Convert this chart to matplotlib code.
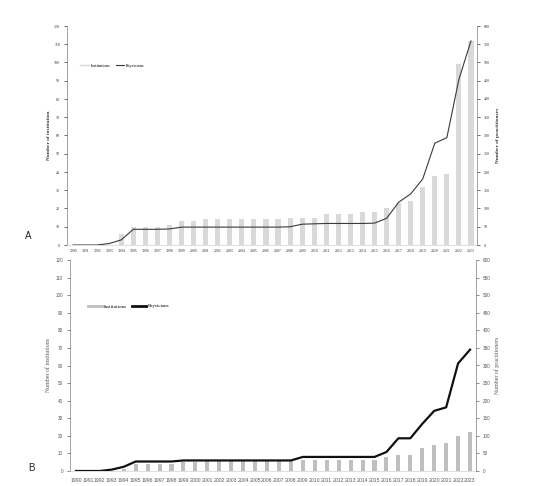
import matplotlib
matplotlib.use("Agg")
import matplotlib.pyplot as plt
import numpy as np

years = ["1990", "1991", "1992", "1993", "1994", "1995", "1996", "1997", "1998", "1999",
         "2000", "2001", "2002", "2003", "2004", "2005", "2006", "2007", "2008", "2009",
         "2010", "2011", "2012", "2013", "2014", "2015", "2016", "2017", "2018", "2019",
         "2020", "2021", "2022", "2023"]

# Panel A
inst_A = [0, 0, 0, 0, 6, 10, 10, 10, 11, 13, 13, 14, 14, 14, 14, 14, 14, 14, 15, 15,
          15, 17, 17, 17, 18, 18, 20, 23, 24, 32, 38, 39, 99, 112]
phys_A = [0, 0, 0, 4, 14, 43, 43, 43, 44, 49, 49, 49, 49, 49, 49, 49, 49, 49, 50, 57,
          58, 59, 59, 59, 59, 60, 73, 117, 140, 181, 279, 294, 454, 559]

# Panel B
inst_B = [0, 0, 0, 0, 1, 4, 4, 4, 4, 5, 5, 6, 6, 6, 6, 6, 6, 6, 6, 6,
          6, 6, 6, 6, 6, 6, 8, 9, 9, 13, 15, 16, 20, 22]
phys_B = [0, 0, 0, 4, 12, 27, 27, 27, 27, 30, 30, 30, 30, 30, 30, 30, 30, 30, 30, 40,
          40, 40, 40, 40, 40, 40, 54, 93, 93, 134, 171, 181, 306, 345]

left_ticks = [0, 10, 20, 30, 40, 50, 60, 70, 80, 90, 100, 110, 120]
right_ticks = [0, 50, 100, 150, 200, 250, 300, 350, 400, 450, 500, 550, 600]

W, H = 538, 486
fig = plt.figure(figsize=(W / 100, H / 100), dpi=100)

serif = ["Liberation Serif", "DejaVu Serif"]
sans = ["Liberation Sans", "DejaVu Sans"]


def frac(l, t, r, b):
    return [l / W, 1 - b / H, (r - l) / W, (b - t) / H]


def panel(rect, inst, phys, bar_color, bar_w, line_color, line_w, font, tick_fs,
          xtick_fs, xpad, txt_color, ylab_l, ylab_r, lab_fs, lab_weight, lpad, rpad):
    ax = fig.add_axes(rect)
    x = np.arange(len(years))
    ax.bar(x, inst, width=bar_w, color=bar_color, zorder=2, label="Institutions")
    ax.set_xlim(-0.5, len(years) - 0.5)
    ax.set_ylim(0, 120)
    ax.set_yticks(left_ticks)
    ax.set_xticks(x)
    ax.set_xticklabels(years, fontsize=xtick_fs, family=font, color=txt_color)
    ax.tick_params(axis="x", length=0, pad=xpad)
    ax.tick_params(axis="y", labelsize=tick_fs, length=2, width=0.5, pad=3,
                   colors=txt_color)
    for lab in ax.get_yticklabels():
        lab.set_family(font)
    ax.spines["top"].set_visible(False)
    ax.spines["right"].set_visible(False)
    ax.spines["left"].set_linewidth(0.5)
    ax.spines["left"].set_color("#808080")
    ax.spines["bottom"].set_linewidth(0.5)
    ax.spines["bottom"].set_color("#d0d0d0")
    ax.set_ylabel(ylab_l, fontsize=lab_fs, family=font, color=txt_color,
                  fontweight=lab_weight, labelpad=lpad)

    ax2 = ax.twinx()
    ax2.plot(x, phys, color=line_color, lw=line_w, zorder=3, label="Physicians")
    ax2.set_ylim(0, 600)
    ax2.set_yticks(right_ticks)
    ax2.tick_params(axis="y", labelsize=tick_fs, length=2, width=0.5, pad=3,
                    colors=txt_color)
    for lab in ax2.get_yticklabels():
        lab.set_family(font)
    for s in ["top", "left", "bottom"]:
        ax2.spines[s].set_visible(False)
    ax2.spines["right"].set_linewidth(0.5)
    ax2.spines["right"].set_color("#808080")
    ax2.set_ylabel(ylab_r, fontsize=lab_fs, family=font, color=txt_color,
                   fontweight=lab_weight, labelpad=rpad)
    return ax, ax2


# Panel A
axA, axA2 = panel(frac(67, 26, 477, 245), inst_A, phys_A, "#d9d9d9", 0.42,
                  "#3a3a3a", 0.8, serif, 2.9, 2.8, 3, "#333333",
                  "Number of institution", "Number of practitioners", 3.8, "bold",
                  2.5, 4.5)
hA1 = plt.Line2D([], [], color="#d9d9d9", lw=1.0)
hA2 = plt.Line2D([], [], color="#3a3a3a", lw=0.8)
axA.legend([hA1, hA2], ["Institutions", "Physicians"], loc="upper left",
           bbox_to_anchor=((78 - 67) / 410, (245 - 62) / 219), ncol=2, frameon=False,
           prop={"family": serif, "size": 3.2}, handlelength=2.0, handletextpad=0.4,
           columnspacing=1.2, borderaxespad=0)

# Panel B
axB, axB2 = panel(frac(70, 260, 476, 471), inst_B, phys_B, "#bfbfbf", 0.34,
                  "#111111", 1.6, sans, 3.3, 3.7, 5, "#595959",
                  "Number of institutions", "Number of practitioners", 4.2, "normal",
                  3, 3)
for lab in [axB.yaxis.label, axB2.yaxis.label]:
    lab.set_family(serif)
hB1 = plt.Line2D([], [], color="#bfbfbf", lw=2.0)
hB2 = plt.Line2D([], [], color="#111111", lw=2.0)
axB.legend([hB1, hB2], ["Institutions", "Physicians"], loc="upper left",
           bbox_to_anchor=((86 - 70) / 406, (471 - 302) / 211), ncol=2, frameon=False,
           prop={"family": serif, "size": 3.6}, handlelength=2.8, handletextpad=0.4,
           columnspacing=1.0, borderaxespad=0)

fig.text(28 / W, 1 - 236 / H, "A", fontsize=7, family=sans, color="#222222",
         ha="center", va="center")
fig.text(31 / W, 1 - 468 / H, "B", fontsize=7, family=sans, color="#222222",
         ha="center", va="center")

fig.savefig("out.png", dpi=100)
